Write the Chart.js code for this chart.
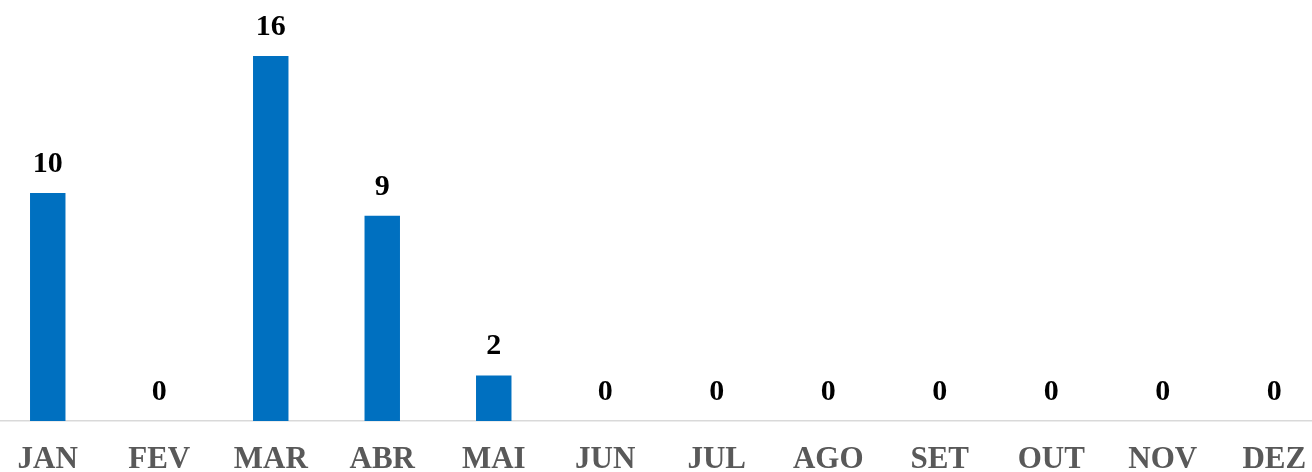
<!DOCTYPE html>
<html>
<head>
<meta charset="utf-8">
<script src="https://cdn.jsdelivr.net/npm/chart.js@4"></script>
<style>
  html, body { margin: 0; padding: 0; background: #ffffff; overflow: hidden; width: 1312px; height: 472px; }
  #c { position: absolute; left: -8px; top: 0; }
</style>
</head>
<body>
<canvas id="c" width="1338" height="472"></canvas>
<script>
const categories = ["JAN", "FEV", "MAR", "ABR", "MAI", "JUN", "JUL", "AGO", "SET", "OUT", "NOV", "DEZ"];
const values = [10, 0, 16, 9, 2, 0, 0, 0, 0, 0, 0, 0];
const yMax = 18;

const FONT = "'Liberation Serif', 'Times New Roman', serif";

const valueLabels = {
  id: 'valueLabels',
  afterDatasetsDraw(chart) {
    const ctx = chart.ctx;
    const meta = chart.getDatasetMeta(0);
    ctx.save();
    ctx.font = "bold 30px " + FONT;
    ctx.fillStyle = "#000000";
    ctx.textAlign = "center";
    ctx.textBaseline = "alphabetic";
    meta.data.forEach((bar, i) => {
      ctx.fillText(String(chart.data.datasets[0].data[i]), bar.x, bar.y - 21);
    });
    ctx.restore();
  }
};

new Chart(document.getElementById('c'), {
  type: 'bar',
  data: {
    labels: categories,
    datasets: [{
      data: values,
      backgroundColor: '#0070C0',
      borderWidth: 0,
      barPercentage: 0.318,
      categoryPercentage: 1.0
    }]
  },
  options: {
    responsive: false,
    devicePixelRatio: 1,
    animation: false,
    layout: { padding: { top: 10.375, left: 0, right: 0, bottom: 0 } },
    plugins: { legend: { display: false }, tooltip: { enabled: false } },
    scales: {
      x: {
        grid: { display: false, drawTicks: false },
        border: { display: true, color: '#d9d9d9', width: 1.5 },
        ticks: {
          color: '#595959',
          font: { family: FONT, size: 31, weight: 'bold' },
          padding: 20,
          maxRotation: 0,
          autoSkip: false
        },
        afterFit(scale) { scale.height = 51; }
      },
      y: {
        display: false,
        min: 0,
        max: yMax
      }
    }
  },
  plugins: [valueLabels]
});
</script>
</body>
</html>
